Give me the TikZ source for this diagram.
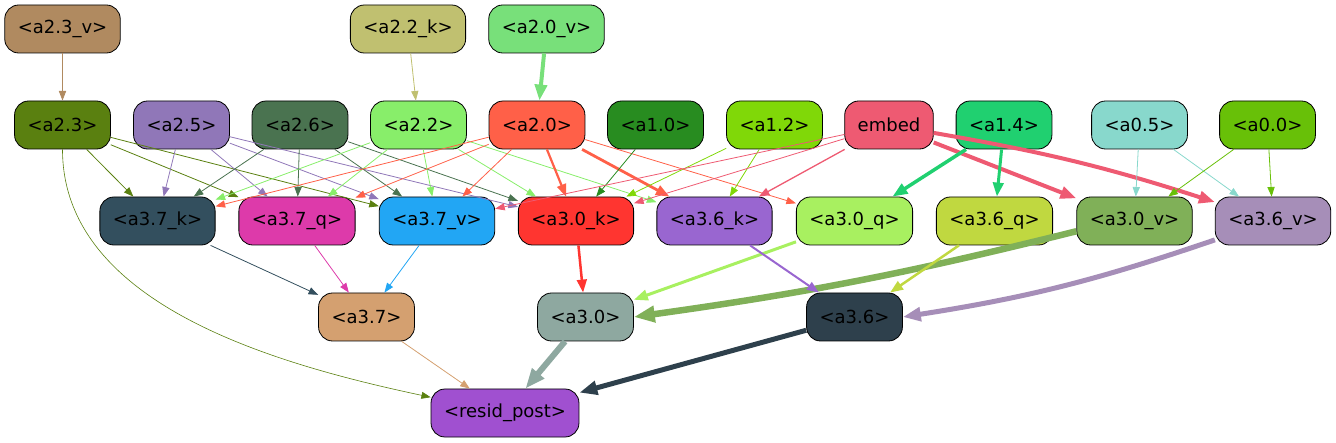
\documentclass[tikz,border=0pt]{standalone}
\usepackage{fontspec}
\setmainfont{DejaVu Sans}
\usetikzlibrary{arrows.meta}
\definecolor{c23v}{HTML}{B08A60}
\definecolor{c22k}{HTML}{C0C070}
\definecolor{c20v}{HTML}{78E07A}
\definecolor{c23}{HTML}{5A8010}
\definecolor{c25}{HTML}{9077B8}
\definecolor{c26}{HTML}{4A7350}
\definecolor{c22}{HTML}{88EE6A}
\definecolor{c20}{HTML}{FF6048}
\definecolor{c10}{HTML}{288C20}
\definecolor{c12}{HTML}{80D808}
\definecolor{cemb}{HTML}{EE5A72}
\definecolor{c14}{HTML}{20D070}
\definecolor{c05}{HTML}{88D8CC}
\definecolor{c00}{HTML}{68C008}
\definecolor{c37k}{HTML}{334F5E}
\definecolor{c37q}{HTML}{DD3AAA}
\definecolor{c37v}{HTML}{22A6F4}
\definecolor{c30k}{HTML}{FF3530}
\definecolor{c36k}{HTML}{9966D0}
\definecolor{c30q}{HTML}{A8F060}
\definecolor{c36q}{HTML}{C0D840}
\definecolor{c30v}{HTML}{80B058}
\definecolor{c36v}{HTML}{A68EB8}
\definecolor{c37}{HTML}{D4A070}
\definecolor{c30}{HTML}{8EA8A0}
\definecolor{c36}{HTML}{2E404C}
\definecolor{cres}{HTML}{A050D0}

\begin{document}
\begin{tikzpicture}[x=1pt,y=-1pt,
            box/.style={draw,rounded corners=14pt,line width=0.8pt,minimum height=48pt,inner xsep=13pt,font=\fontsize{18}{21}\selectfont},
            ed/.style={-{Triangle[length=8pt 2,width=6pt 1.5]},line width=0.8pt},
            ]
            \useasboundingbox (0,0) rectangle (1336,443);

            \node[box, fill=c23v] (a23v) at (62.5,29) {<a2.3\_v>};
            \node[box, fill=c22k] (a22k) at (408,29) {<a2.2\_k>};
            \node[box, fill=c20v] (a20v) at (546.5,29) {<a2.0\_v>};

            \node[box, fill=c23] (a23) at (62.5,125) {<a2.3>};
            \node[box, fill=c25] (a25) at (181.5,125) {<a2.5>};
            \node[box, fill=c26] (a26) at (300,125) {<a2.6>};
            \node[box, fill=c22] (a22) at (418.5,125) {<a2.2>};
            \node[box, fill=c20] (a20) at (537,125) {<a2.0>};
            \node[box, fill=c10] (a10) at (655.5,125) {<a1.0>};
            \node[box, fill=c12] (a12) at (774.5,125) {<a1.2>};
            \node[box, fill=cemb] (emb) at (889,125) {embed};
            \node[box, fill=c14] (a14) at (1004,125) {<a1.4>};
            \node[box, fill=c05] (a05) at (1139.5,125) {<a0.5>};
            \node[box, fill=c00] (a00) at (1267.5,125) {<a0.0>};

            \node[box, fill=c37k] (a37k) at (157.5,221) {<a3.7\_k>};
            \node[box, fill=c37q] (a37q) at (297,221) {<a3.7\_q>};
            \node[box, fill=c37v] (a37v) at (437,221) {<a3.7\_v>};
            \node[box, fill=c30k] (a30k) at (576,221) {<a3.0\_k>};
            \node[box, fill=c36k] (a36k) at (714.5,221) {<a3.6\_k>};
            \node[box, fill=c30q] (a30q) at (854.5,221) {<a3.0\_q>};
            \node[box, fill=c36q] (a36q) at (994.5,221) {<a3.6\_q>};
            \node[box, fill=c30v] (a30v) at (1134.5,221) {<a3.0\_v>};
            \node[box, fill=c36v] (a36v) at (1273,221) {<a3.6\_v>};

            \node[box, fill=c37] (a37) at (366.5,317) {<a3.7>};
            \node[box, fill=c30] (a30) at (585.5,317) {<a3.0>};
            \node[box, fill=c36] (a36) at (854.5,317) {<a3.6>};

            \node[box, fill=cres] (resid) at (505,413) {<resid\_post>};

            \draw[ed, c23v] (a23v) -- (a23);
            \draw[ed, c22k] (a22k) -- (a22);
            \draw[ed, c20v, line width=4pt] (a20v) -- (a20);

            \foreach \t in {a37k,a37q,a37v} \draw[ed, c23] (a23) -- (\t);
            \draw[ed, c23, line width=0.6pt] (a23) to[out=-90,in=168,looseness=0.9] (resid);
            \foreach \t in {a37k,a37q,a37v,a30k} \draw[ed, c25] (a25) -- (\t);
            \foreach \t in {a37k,a37q,a37v,a30k} \draw[ed, c26] (a26) -- (\t);
            \foreach \t in {a37k,a37q,a37v,a30k,a36k} \draw[ed, c22] (a22) -- (\t);
            \foreach \t in {a37k,a37q,a37v,a30q} \draw[ed, c20] (a20) -- (\t);
            \draw[ed, c20, line width=2.2pt] (a20) -- (a30k);
            \draw[ed, c20, line width=2.8pt] (a20) -- (a36k);
            \draw[ed, c10] (a10) -- (a30k);
            \foreach \t in {a30k,a36k} \draw[ed, c12] (a12) -- (\t);
            \foreach \t in {a37v,a30k} \draw[ed, cemb] (emb) -- (\t);
            \draw[ed, cemb, line width=1.3pt] (emb) -- (a36k);
            \draw[ed, cemb, line width=4pt] (emb) -- (a30v);
            \draw[ed, cemb, line width=4pt] (emb) to[bend left=4] (a36v);
            \draw[ed, c14, line width=3.5pt] (a14) -- (a30q);
            \draw[ed, c14, line width=3pt] (a14) -- (a36q);
            \foreach \t in {a30v,a36v} \draw[ed, c05] (a05) -- (\t);
            \foreach \t in {a30v,a36v} \draw[ed, c00] (a00) -- (\t);

            \draw[ed, c37k] (a37k) -- (a37);
            \draw[ed, c37q] (a37q) -- (a37);
            \draw[ed, c37v] (a37v) -- (a37);
            \draw[ed, c30k, line width=2.5pt] (a30k) -- (a30);
            \draw[ed, c30q, line width=3pt] (a30q) -- (a30);
            \draw[ed, c30v, line width=6.5pt] (a30v.190) to[bend left=3] (a30.east);
            \draw[ed, c36k, line width=2pt] (a36k) -- (a36);
            \draw[ed, c36q, line width=2.5pt] (a36q) -- (a36);
            \draw[ed, c36v, line width=5pt] (a36v.198) to[bend left=5] (a36.east);

            \draw[ed, c37] (a37) -- (resid);
            \draw[ed, c30, line width=6pt] (a30) -- (resid);
            \draw[ed, c36, line width=5pt] (a36) -- (resid);
\end{tikzpicture}
\end{document}
